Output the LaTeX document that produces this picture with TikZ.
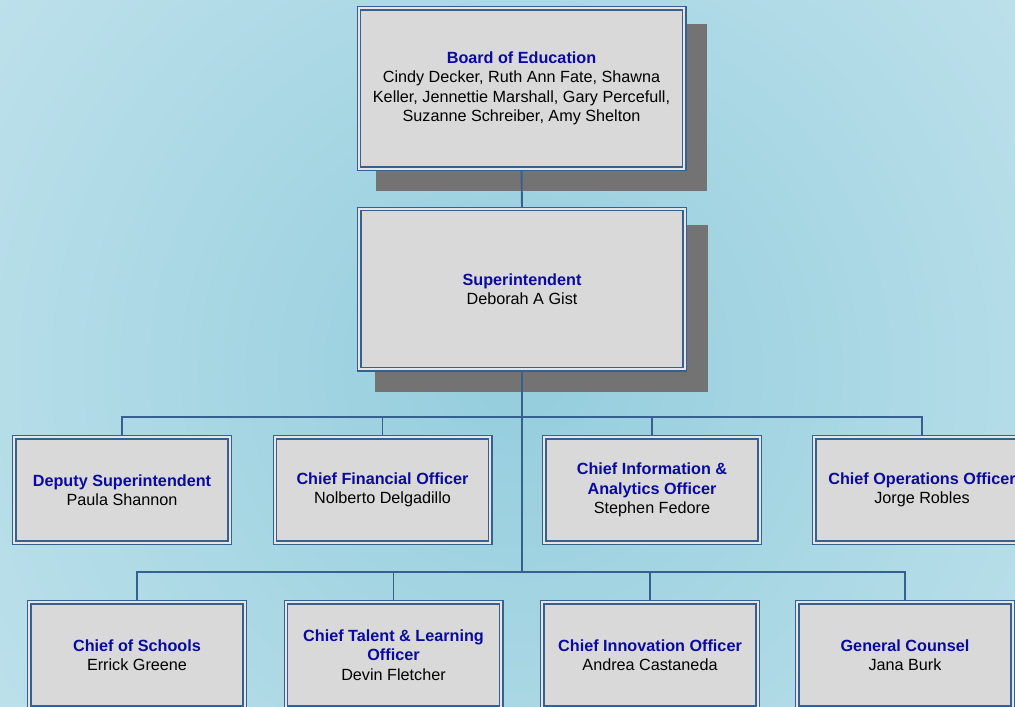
\documentclass[tikz,border=0pt]{standalone}
\usepackage{fontspec}
\setmainfont{Liberation Sans}
\usetikzlibrary{calc}
\pgfdeclarelayer{bg}
\pgfdeclarelayer{shad}
\pgfdeclarelayer{mid}
\pgfsetlayers{bg,shad,mid,main}
\definecolor{bord}{HTML}{36608F}
\definecolor{boxfill}{HTML}{D9D9D9}
\definecolor{gapfill}{HTML}{E6E6E6}
\definecolor{ttl}{HTML}{0A0AA0}
\definecolor{shadowgray}{HTML}{737373}
\definecolor{bgin}{HTML}{94CDDD}
\definecolor{bgout}{HTML}{DAEFF5}
\newcommand{\ttlfmt}[1]{{\color{ttl}\bfseries #1}}
\tikzset{
  orgbox/.style={rectangle, fill=boxfill, draw=bord, double=gapfill,
    double distance=2pt, line width=1.4pt, align=center, inner sep=0pt,
    minimum width=215.2pt, minimum height=105.2pt,
    font=\fontsize{16.2}{19.5}\selectfont},
  bigbox/.style={orgbox, minimum width=325.2pt, minimum height=160.2pt},
  conn/.style={draw=bord, line width=1.4pt},
  mainconn/.style={draw=bord, line width=1.9pt},
  shadowfill/.style={fill=shadowgray}
}
\begin{document}
\begin{tikzpicture}[x=1pt,y=-1pt]
\useasboundingbox (0,0) rectangle (1015,707);
\begin{pgfonlayer}{bg}
\begin{scope}
\clip (0,0) rectangle (1015,707);
\shade[inner color=bgin, outer color=bgout] (-580,-730) rectangle (1620,1470);
\end{scope}
\end{pgfonlayer}

\node[bigbox] (board) at (521.5,88.5) {\ttlfmt{Board of Education}\\ Cindy Decker, Ruth Ann Fate, Shawna\\ Keller, Jennettie Marshall, Gary Percefull,\\ Suzanne Schreiber, Amy Shelton};
\node[bigbox] (sup) at (522,289) {\ttlfmt{Superintendent}\\ Deborah A Gist};

\node[orgbox] (dep) at (122,490) {\ttlfmt{Deputy Superintendent}\\ Paula Shannon};
\node[orgbox] (cfo) at (382.5,490) {\ttlfmt{Chief Financial Officer}\\ Nolberto Delgadillo};
\node[orgbox] (cio) at (652,490) {\ttlfmt{Chief Information \&}\\ \ttlfmt{Analytics Officer}\\ Stephen Fedore};
\node[orgbox] (coo) at (922,490) {\ttlfmt{Chief Operations Officer}\\ Jorge Robles};

\node[orgbox] (cos) at (137,655) {\ttlfmt{Chief of Schools}\\ Errick Greene};
\node[orgbox] (ctl) at (393.5,655) {\ttlfmt{Chief Talent \& Learning}\\ \ttlfmt{Officer}\\ Devin Fletcher};
\node[orgbox] (cino) at (650,655) {\ttlfmt{Chief Innovation Officer}\\ Andrea Castaneda};
\node[orgbox] (gc) at (905,655) {\ttlfmt{General Counsel}\\ Jana Burk};

\begin{pgfonlayer}{shad}
\fill[shadowfill] ($(board.north west)+(17.5,16.5)$) rectangle ($(board.south east)+(22.5,21.5)$);
\fill[shadowfill] ($(sup.north west)+(16.5,17)$) rectangle ($(sup.south east)+(22.5,22)$);
\end{pgfonlayer}

\coordinate (j1) at (522,417);
\coordinate (j2) at (522,572);
\begin{pgfonlayer}{mid}
\draw[mainconn] (board.south) -- (sup.north);
\draw[mainconn] (sup.south) -- (j2);
\draw[conn] (j1) -| (dep.north);
\draw[conn] (j1) -| (cfo.north);
\draw[conn] (j1) -| (cio.north);
\draw[conn] (j1) -| (coo.north);
\draw[conn] (j2) -| (cos.north);
\draw[conn] (j2) -| (ctl.north);
\draw[conn] (j2) -| (cino.north);
\draw[conn] (j2) -| (gc.north);
\end{pgfonlayer}
\end{tikzpicture}
\end{document}
